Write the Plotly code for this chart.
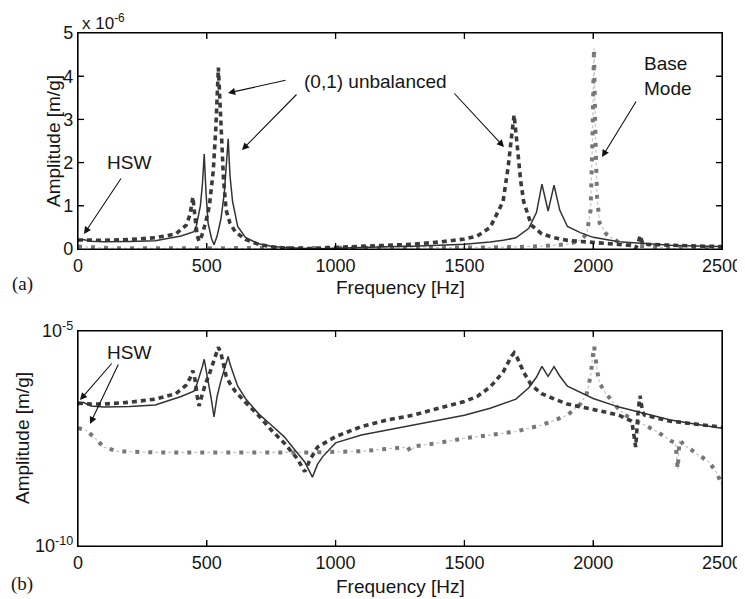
import plotly.graph_objects as go

# ---------------- data (amplitude in m/g) ----------------
freq_bal = [0, 20, 50, 100, 200, 300, 400, 450, 460, 475, 483, 490, 497, 505, 518, 528,
            540, 555, 568, 577, 583, 590, 600, 620, 650, 700, 750, 800, 850, 880, 910,
            930, 950, 1000, 1100, 1200, 1300, 1400, 1500, 1600, 1650, 1700, 1750, 1780,
            1801, 1825, 1848, 1870, 1900, 1950, 2000, 2100, 2200, 2300, 2400, 2500]
amp_bal = [1.9e-7, 2.2e-7, 1.8e-7, 1.7e-7, 1.75e-7, 1.9e-7, 3.0e-7, 4.0e-7, 5.5e-7, 1.0e-6,
           1.5e-6, 2.2e-6, 1.3e-6, 6e-7, 2.5e-7, 1.0e-7,
           3e-7, 7e-7, 1.3e-6, 2.0e-6, 2.55e-6, 1.7e-6, 1.1e-6, 5.2e-7, 2.7e-7, 1.2e-7, 6.5e-8,
           3.5e-8, 1.5e-8, 9e-9, 4e-9,
           8e-9, 1.2e-8, 2.5e-8, 3.8e-8, 5e-8, 6.5e-8, 8.5e-8, 1.1e-7, 1.6e-7, 2.0e-7, 2.6e-7,
           4.8e-7, 8.5e-7,
           1.5e-6, 8.8e-7, 1.48e-6, 9e-7, 5.2e-7, 3.8e-7, 2.7e-7, 1.7e-7, 1.2e-7, 8.5e-8,
           6.8e-8, 5.5e-8]

freq_unb = [0, 50, 100, 200, 300, 380, 420, 435, 446, 455, 463, 470, 480, 495, 510, 525,
            535, 545, 555, 565, 575, 590, 610, 650, 700, 750, 800, 850, 880, 900, 930,
            1000, 1100, 1200, 1300, 1400, 1500, 1550, 1600, 1650, 1670, 1683, 1693, 1705,
            1718, 1730, 1760, 1800, 1850, 1900, 2000, 2100, 2150, 2165, 2175, 2182, 2192,
            2200, 2300, 2400, 2500]
amp_unb = [2.1e-7, 2.0e-7, 2.0e-7, 2.2e-7, 2.6e-7, 3.5e-7, 5.5e-7, 8e-7, 1.2e-6, 7e-7,
           3e-7, 1.8e-7, 3e-7, 6e-7, 1.0e-6, 1.8e-6,
           2.8e-6, 4.2e-6, 3.0e-6, 1.6e-6, 9e-7, 6e-7, 4e-7, 2.2e-7, 1.1e-7, 5e-8, 2.5e-8,
           1.1e-8, 5.4e-9, 1.0e-8, 2e-8,
           3.5e-8, 6e-8, 8.5e-8, 1.1e-7, 1.6e-7, 2.3e-7, 3.0e-7, 5e-7, 1.1e-6, 1.9e-6,
           2.6e-6, 3.1e-6, 2.4e-6,
           1.6e-6, 1.1e-6, 5.5e-7, 3.5e-7, 2.6e-7, 2.0e-7, 1.5e-7, 1.1e-7, 8e-8, 2e-8,
           1.5e-7, 3.1e-7, 1.3e-7,
           1.1e-7, 8e-8, 6.8e-8, 5.8e-8]

freq_base = [0, 30, 60, 100, 150, 300, 600, 900, 1100, 1200, 1280, 1290, 1310, 1400,
             1500, 1600, 1700, 1800, 1900, 1950, 1975, 1990, 1997, 2003, 2009, 2015,
             2025, 2050, 2100, 2150, 2200, 2250, 2300, 2320, 2328, 2335, 2350, 2400,
             2450, 2480, 2500]
amp_base = [5.5e-8, 5e-8, 3.5e-8, 2.0e-8, 1.6e-8, 1.5e-8, 1.5e-8, 1.5e-8, 1.6e-8, 1.8e-8,
            2.0e-8, 1.6e-8, 2.1e-8, 2.5e-8,
            3.2e-8, 3.8e-8, 4.6e-8, 6.5e-8, 1.1e-7, 2.0e-7, 3.5e-7, 9e-7, 2.5e-6, 4.65e-6,
            2.5e-6, 1.2e-6,
            6e-7, 3.5e-7, 1.5e-7, 8.5e-8, 6.5e-8, 4.5e-8, 2.8e-8, 2.5e-8, 6e-9, 3e-8,
            2.3e-8, 1.4e-8,
            9e-9, 5e-9, 2.6e-9]

x_ticks = [0, 500, 1000, 1500, 2000, 2500]
lin_ticks = [0, 1e-6, 2e-6, 3e-6, 4e-6, 5e-6]
lin_tick_text = ["0", "1", "2", "3", "4", "5"]
log_ticks = [1e-10, 1e-5]
log_tick_text = ["10<sup>-10</sup>", "10<sup>-5</sup>"]

# ---------------- figure ----------------
# page has an 8px body margin; the figure starts at (8, 8) and fills the window
OFF = 8
W, H = 745 - OFF, 599 - OFF
FONT = "Liberation Sans, Arial, Helvetica, sans-serif"
TXT = "#151515"

fig = go.Figure()

for xa, ya in [("x", "y"), ("x2", "y2")]:
    # base mode: thin light line + thick grey squares
    fig.add_trace(go.Scatter(x=freq_base, y=amp_base, mode="lines", xaxis=xa, yaxis=ya,
                             line=dict(color="#c4c4c4", width=1.2, dash="0px,7px,3px,3px"),
                             showlegend=False, hoverinfo="skip"))
    fig.add_trace(go.Scatter(x=freq_base, y=amp_base, mode="lines", xaxis=xa, yaxis=ya,
                             line=dict(color="#777777", width=4, dash="4px,9px"),
                             showlegend=False))
    fig.add_trace(go.Scatter(x=freq_unb, y=amp_unb, mode="lines", xaxis=xa, yaxis=ya,
                             line=dict(color="#3a3a3a", width=3.6, dash="5px,4px"),
                             showlegend=False))
    fig.add_trace(go.Scatter(x=freq_bal, y=amp_bal, mode="lines", xaxis=xa, yaxis=ya,
                             line=dict(color="#333333", width=1.5),
                             showlegend=False))

# page pixel geometry of the two plot boxes
L, R = 78, 722
top1, bot1 = 33, 249
top2, bot2 = 331, 546


def fx(p):
    return (p - OFF) / W


def fy(p):
    return 1 - (p - OFF) / H


xdom = [fx(L), fx(R)]

axis_common = dict(showline=True, linecolor="#000000", linewidth=1.2, mirror="allticks",
                   ticks="inside", ticklen=5, tickcolor="#000000", tickwidth=1.2,
                   showgrid=False, zeroline=False, automargin=False, layer="above traces",
                   ticklabeloverflow="allow",
                   tickfont=dict(family=FONT, size=18, color=TXT))

fig.update_layout(
    template="none",
    width=W, height=H, margin=dict(l=0, r=0, t=0, b=0, pad=0),
    paper_bgcolor="white", plot_bgcolor="white",
    xaxis=dict(domain=xdom, anchor="y", range=[0, 2500], tickmode="array",
               tickvals=x_ticks, **axis_common),
    yaxis=dict(domain=[fy(bot1), fy(top1)], anchor="x", range=[0, 5e-6], tickmode="array",
               tickvals=lin_ticks, ticktext=lin_tick_text, **axis_common),
    xaxis2=dict(domain=xdom, anchor="y2", range=[0, 2500], tickmode="array",
                tickvals=x_ticks, **axis_common),
    yaxis2=dict(domain=[fy(bot2), fy(top2)], anchor="x2", type="log", range=[-10, -5],
                tickmode="array", tickvals=log_ticks, ticktext=log_tick_text, **axis_common),
)

# frame boxes and inward tick marks (positioned through the axes)
TL = 6
tick_line = dict(color="black", width=1.3)
shapes = []
for (t, b) in [(top1, bot1), (top2, bot2)]:
    shapes.append(dict(type="rect", xref="paper", yref="paper",
                       x0=fx(L), x1=fx(R), y0=fy(b), y1=fy(t),
                       line=dict(color="black", width=1.2), layer="above"))
for xr, (t, b) in [("x", (top1, bot1)), ("x2", (top2, bot2))]:
    for v in x_ticks[1:-1]:
        shapes.append(dict(type="line", xref=xr, yref="paper", x0=v, x1=v,
                           ysizemode="pixel", yanchor=fy(b), y0=0, y1=TL,
                           line=tick_line, layer="above"))
        shapes.append(dict(type="line", xref=xr, yref="paper", x0=v, x1=v,
                           ysizemode="pixel", yanchor=fy(t), y0=-TL, y1=0,
                           line=tick_line, layer="above"))
for v in lin_ticks[1:-1]:
    shapes.append(dict(type="line", xref="paper", yref="y", y0=v, y1=v,
                       xsizemode="pixel", xanchor=fx(L), x0=0, x1=TL,
                       line=tick_line, layer="above"))
    shapes.append(dict(type="line", xref="paper", yref="y", y0=v, y1=v,
                       xsizemode="pixel", xanchor=fx(R), x0=-TL, x1=0,
                       line=tick_line, layer="above"))
fig.update_layout(shapes=shapes)

anns = []


def text(t, x, y, size=19, family=FONT, angle=0, xanchor="center", align="center"):
    anns.append(dict(text=t, x=fx(x), y=fy(y), xref="paper", yref="paper", showarrow=False,
                     xanchor=xanchor, yanchor="middle", textangle=angle, align=align,
                     font=dict(family=family, size=size, color=TXT)))


def arrow(tail, head):
    anns.append(dict(text="", x=fx(head[0]), y=fy(head[1]), xref="paper", yref="paper",
                     showarrow=True, ax=tail[0] - head[0], ay=tail[1] - head[1],
                     arrowhead=2, arrowsize=1.3, arrowwidth=1.1, arrowcolor="#111111"))


SERIF = "Liberation Serif, Times New Roman, serif"
# panel (a)
text("x 10<sup>-6</sup>", 80, 22, size=17, xanchor="left")
text("Amplitude [m/g]", 54, 141, angle=-90)
text("Frequency [Hz]", 400, 288)
text("(a)", 22, 284, size=19, family=SERIF)
text("HSW", 129, 163)
text("(0,1) unbalanced", 375, 82)
text("Base<br>Mode", 642, 76, xanchor="left", align="left")
arrow((122, 177), (84, 234))
arrow((287, 80), (228, 93))
arrow((298, 93), (242, 150))
arrow((453, 92), (504, 147))
arrow((637, 100), (602, 157))
# panel (b)
text("Amplitude [m/g]", 22, 438, angle=-90)
text("Frequency [Hz]", 400, 586)
text("(b)", 22, 584, size=19, family=SERIF)
text("HSW", 129, 352)
arrow((113, 362), (80, 400))
arrow((119, 363), (90, 424))

fig.update_layout(annotations=anns)
fig.write_html("out.html")
